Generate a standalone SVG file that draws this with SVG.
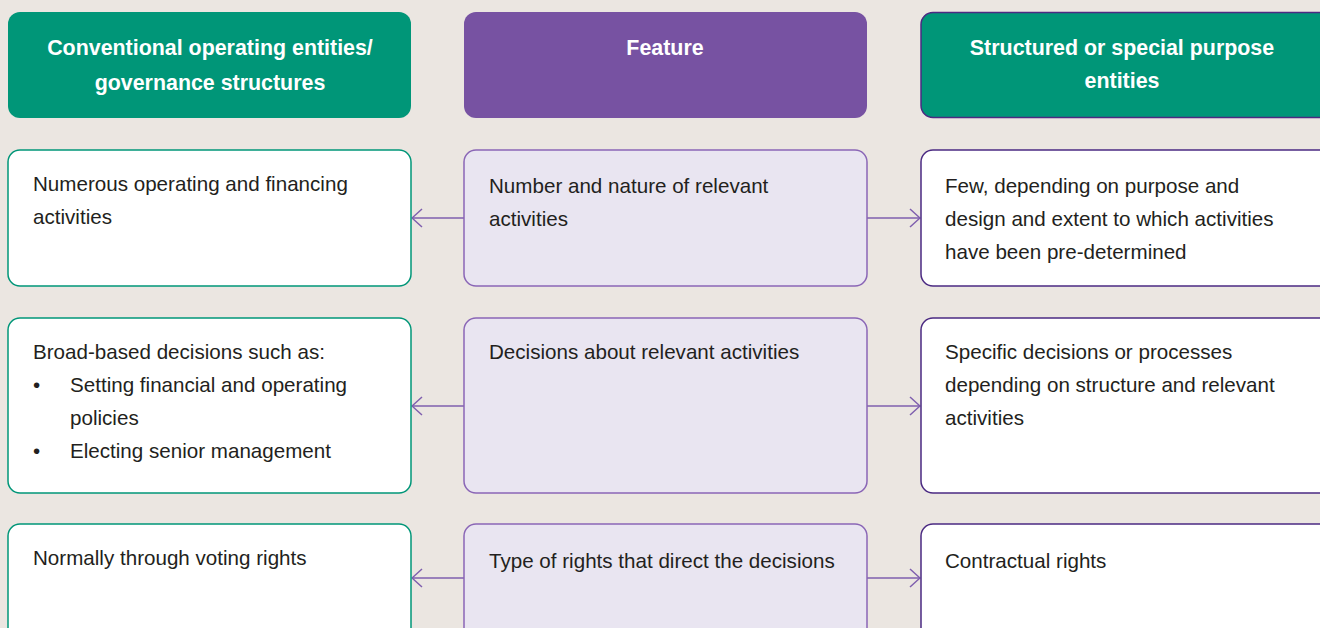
<svg xmlns="http://www.w3.org/2000/svg" width="1320" height="628" viewBox="0 0 1320 628">
<defs>
<style>
.hdrG{fill:#009678;}
.hdrP{fill:#7752a2;}
.hdrR{fill:#009678;stroke:#4b2a82;stroke-width:1.5;}
.boxL{fill:#ffffff;stroke:#009678;stroke-width:1.5;}
.boxM{fill:#e9e5f1;stroke:#8a66b6;stroke-width:1.5;}
.boxR{fill:#ffffff;stroke:#4b2a82;stroke-width:1.5;}
.ht{font-family:"Liberation Sans",Arial,sans-serif;font-weight:bold;font-size:21.4px;fill:#ffffff;text-anchor:middle;}
.bt{font-family:"Liberation Sans",Arial,sans-serif;font-size:20.6px;fill:#231f20;}
.conn{stroke:#7f5fae;stroke-width:1.5;fill:none;}
</style>
<marker id="arr" viewBox="0 0 12 20" refX="11" refY="10" markerWidth="12" markerHeight="20" markerUnits="userSpaceOnUse" orient="auto">
<path d="M1,1 L11,10 L1,19" fill="none" stroke="#7f5fae" stroke-width="1.5"/>
</marker>
</defs>
<rect width="1320" height="628" fill="#ebe6e1"/>
<g id="connectors">
<line class="conn" x1="464" y1="218" x2="412" y2="218" marker-end="url(#arr)"/>
<line class="conn" x1="867" y1="218" x2="920" y2="218" marker-end="url(#arr)"/>
<line class="conn" x1="464" y1="406" x2="412" y2="406" marker-end="url(#arr)"/>
<line class="conn" x1="867" y1="406" x2="920" y2="406" marker-end="url(#arr)"/>
<line class="conn" x1="464" y1="578" x2="412" y2="578" marker-end="url(#arr)"/>
<line class="conn" x1="867" y1="578" x2="920" y2="578" marker-end="url(#arr)"/>
</g>
<g id="hdr-conventional">
<rect class="hdrG" x="8" y="12" width="403" height="106" rx="12"/>
<text class="ht" x="210" y="55">Conventional operating entities/</text>
<text class="ht" x="210" y="90">governance structures</text>
</g>
<g id="hdr-feature">
<rect class="hdrP" x="464" y="12" width="403" height="106" rx="12"/>
<text class="ht" x="665" y="55">Feature</text>
</g>
<g id="hdr-structured">
<rect class="hdrR" x="921" y="12.5" width="410" height="105" rx="12"/>
<text class="ht" x="1122" y="55">Structured or special purpose</text>
<text class="ht" x="1122" y="88">entities</text>
</g>
<g id="r1-left">
<rect class="boxL" x="8" y="150" width="403" height="136" rx="12"/>
<text class="bt" x="33" y="191">Numerous operating and financing</text>
<text class="bt" x="33" y="224">activities</text>
</g>
<g id="r1-mid">
<rect class="boxM" x="464" y="150" width="403" height="136" rx="12"/>
<text class="bt" x="489" y="193">Number and nature of relevant</text>
<text class="bt" x="489" y="226">activities</text>
</g>
<g id="r1-right">
<rect class="boxR" x="921" y="150" width="410" height="136" rx="12"/>
<text class="bt" x="945" y="193">Few, depending on purpose and</text>
<text class="bt" x="945" y="226">design and extent to which activities</text>
<text class="bt" x="945" y="259">have been pre-determined</text>
</g>
<g id="r2-left">
<rect class="boxL" x="8" y="318" width="403" height="175" rx="12"/>
<text class="bt" x="33" y="359">Broad-based decisions such as:</text>
<text class="bt" x="33" y="392">•</text>
<text class="bt" x="70" y="392">Setting financial and operating</text>
<text class="bt" x="70" y="425">policies</text>
<text class="bt" x="33" y="458">•</text>
<text class="bt" x="70" y="458">Electing senior management</text>
</g>
<g id="r2-mid">
<rect class="boxM" x="464" y="318" width="403" height="175" rx="12"/>
<text class="bt" x="489" y="359">Decisions about relevant activities</text>
</g>
<g id="r2-right">
<rect class="boxR" x="921" y="318" width="410" height="175" rx="12"/>
<text class="bt" x="945" y="359">Specific decisions or processes</text>
<text class="bt" x="945" y="392">depending on structure and relevant</text>
<text class="bt" x="945" y="425">activities</text>
</g>
<g id="r3-left">
<rect class="boxL" x="8" y="524" width="403" height="120" rx="12"/>
<text class="bt" x="33" y="565">Normally through voting rights</text>
</g>
<g id="r3-mid">
<rect class="boxM" x="464" y="524" width="403" height="120" rx="12"/>
<text class="bt" x="489" y="568">Type of rights that direct the decisions</text>
</g>
<g id="r3-right">
<rect class="boxR" x="921" y="524" width="410" height="120" rx="12"/>
<text class="bt" x="945" y="568">Contractual rights</text>
</g>
</svg>
